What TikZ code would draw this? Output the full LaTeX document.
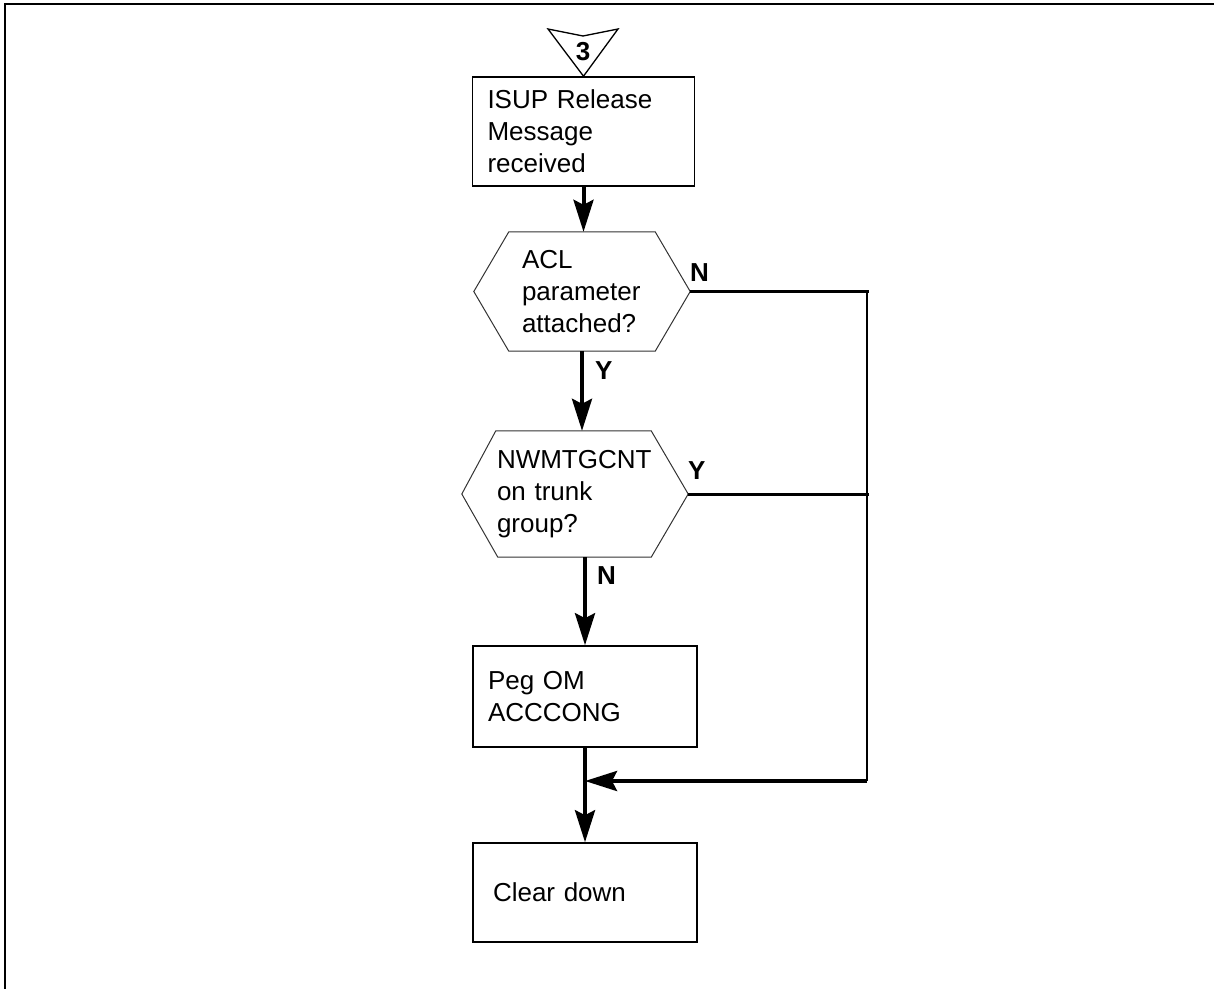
\documentclass[tikz,border=0pt]{standalone}
\usepackage{fontspec}
\setmainfont{Liberation Sans}
\usetikzlibrary{arrows.meta}

\tikzset{
  procbox/.style={draw, line width=1.6pt, text width=192pt, inner xsep=15pt,
    inner ysep=0pt, align=left},
  hexnode/.style={inner sep=0pt, align=left},
  hexline/.style={line width=1pt, draw=black!80},
  flow/.style={line width=4pt, -{Stealth[length=32pt,width=20pt,inset=5pt]}},
  branch/.style={line width=3pt},
  yn/.style={font=\fontsize{26}{32}\selectfont\bfseries, inner sep=0pt,
    anchor=south west}
}

\begin{document}
\begin{tikzpicture}[x=1pt, y=-1pt,
        every node/.style={font=\fontsize{26}{32}\selectfont}]
  \useasboundingbox (0,0) rectangle (1214,989);
  % frame
  \draw[line width=1.5pt] (1214,4) -- (5,4) -- (5,989);

  % boxes and decisions
  \node[procbox, minimum height=109pt] (rel) at (583.5,131.5)
        {ISUP Release\\Message\\received};
  \node[hexnode, text width=120pt, minimum width=216pt, minimum height=119pt]
        (acl) at (582,291.5) {ACL\\parameter\\attached?};
  \node[hexnode, text width=156pt, minimum width=226pt, minimum height=126pt]
        (nwm) at (575,494) {NWMTGCNT\\on trunk\\group?};
  \node[procbox, text width=194pt, minimum height=101pt] (peg) at (585,696.5)
        {Peg OM\\ACCCONG};
  \node[procbox, text width=184pt, inner xsep=20pt, minimum height=99pt]
        (clr) at (585,892.5) {Clear down};

  % off-page connector
  \node[font=\fontsize{26}{32}\selectfont\bfseries, inner sep=0pt, anchor=base]
        (pg) at (583,60) {3};
  \draw[line width=1.3pt] (548,29) -- (583,36) -- (618,29) -- (rel.north) -- cycle;

  % hexagon outlines
  \draw[hexline] (acl.west) -- ([xshift=35pt]acl.north west)
        -- ([xshift=-35pt]acl.north east) -- (acl.east)
        -- ([xshift=-35pt]acl.south east) -- ([xshift=35pt]acl.south west) -- cycle;
  \draw[hexline] (nwm.west) -- ([xshift=34pt]nwm.north west)
        -- ([xshift=-37pt]nwm.north east) -- (nwm.east)
        -- ([xshift=-37pt]nwm.south east) -- ([xshift=36pt]nwm.south west) -- cycle;

  % connectors
  \coordinate (bus) at (867,781);
  \draw[flow] (rel.south) -- (rel.south |- acl.north);
  \draw[flow] (acl.south) -- (acl.south |- nwm.north);
  \draw[flow] (peg.north |- nwm.south) -- (peg.north);
  \draw[flow] (peg.south) -- (clr.north);
  \draw[branch] (acl.east) -- ([xshift=2pt]acl.east -| bus);
  \draw[branch] (nwm.east) -- ([xshift=2pt]nwm.east -| bus);
  \draw[line width=1.5pt] (acl.east -| bus) -- (bus);
  \draw[flow] (bus) -- (bus -| peg.south);

  % branch labels
  \node[yn] (accN) at (690,282) {N};
  \node[yn] (accY) at (595,380) {Y};
  \node[yn] (nwmY) at (688,480) {Y};
  \node[yn] (nwmN) at (597,585) {N};
\end{tikzpicture}
\end{document}
